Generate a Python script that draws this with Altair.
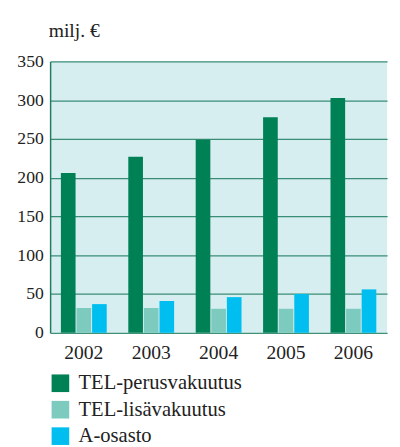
import altair as alt
import pandas as pd

years = ["2002", "2003", "2004", "2005", "2006"]
series = ["TEL-perusvakuutus", "TEL-lisävakuutus", "A-osasto"]
perus = [206, 227, 249, 278, 303]
lisa = [32, 32, 31, 31, 31]
aosasto = [37, 41, 46, 50, 56]
colors = ["#008055", "#7ccbbe", "#00bff0"]

rows = []
for i, y in enumerate(years):
    for s, vals in zip(series, [perus, lisa, aosasto]):
        rows.append({"vuosi": y, "sarja": s, "arvo": vals[i]})
df = pd.DataFrame(rows)

FONT = "Liberation Serif"
GRID = "#1f7d60"

chart = alt.Chart(df).mark_bar().encode(
    x=alt.X("vuosi:N", sort=years, title=None,
            scale=alt.Scale(paddingInner=0.32, paddingOuter=0.16),
            axis=alt.Axis(labelAngle=0, ticks=False, domain=False,
                          labelFont=FONT, labelFontSize=20, labelColor="#222",
                          labelPadding=10)),
    xOffset=alt.XOffset("sarja:N", sort=series, scale=alt.Scale(paddingInner=0.06)),
    y=alt.Y("arvo:Q", title="milj. €",
            scale=alt.Scale(domain=[0, 350], nice=False),
            axis=alt.Axis(values=[0, 50, 100, 150, 200, 250, 300, 350],
                          ticks=False, labelFont=FONT, labelFontSize=18,
                          labelColor="#222", labelPadding=7,
                          domainColor=GRID, domainWidth=1.5,
                          gridColor=GRID, gridWidth=1.3, gridOpacity=0.85,
                          titleAngle=0, titleAlign="left", titleBaseline="middle",
                          titleX=-2, titleY=-31, titleFont=FONT, titleFontSize=20,
                          titleFontWeight="normal", titleColor="#222")),
    color=alt.Color("sarja:N", sort=series,
                    scale=alt.Scale(domain=series, range=colors),
                    legend=alt.Legend(title=None, orient="none", legendX=0, legendY=318,
                                      symbolType="square", symbolSize=324,
                                      symbolStrokeWidth=0, symbolOpacity=1,
                                      labelFont=FONT, labelFontSize=21, labelColor="#222",
                                      labelLimit=400,
                                      rowPadding=5, labelOffset=8, padding=0)),
).properties(
    width=344, height=277,
    autosize=alt.AutoSizeParams(type="none"),
    padding={"left": 43, "top": 50, "right": 5, "bottom": 112},
).configure_view(
    fill="#d6eef0", stroke=None
)

chart.save("out.html", embed_options={"renderer": "svg", "actions": False})
